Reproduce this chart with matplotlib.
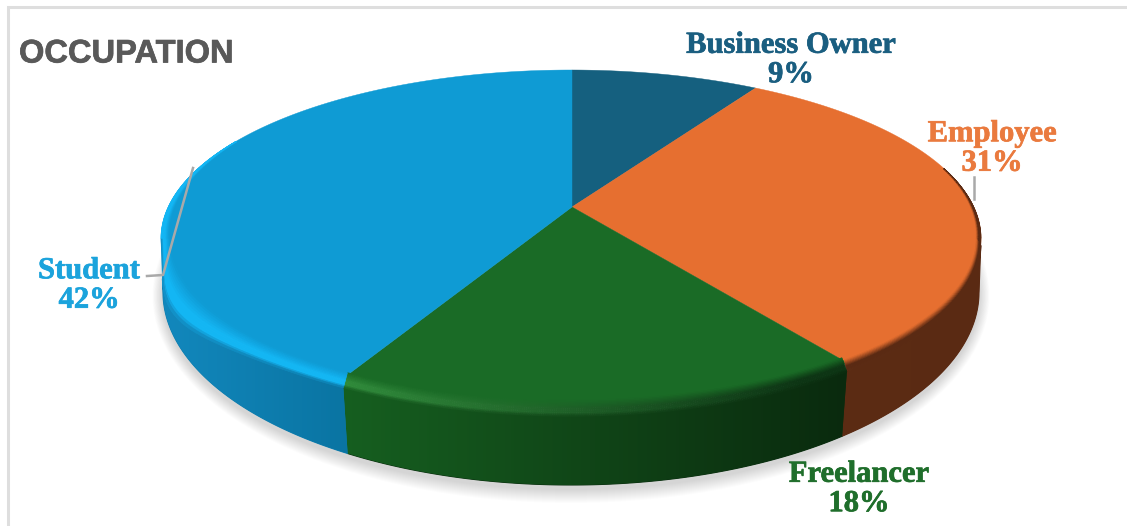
import numpy as np
import matplotlib
matplotlib.use("Agg")
import matplotlib.pyplot as plt
import matplotlib.patheffects as pe
from matplotlib.collections import PolyCollection
from matplotlib.colors import to_rgb
from matplotlib.patches import Ellipse, Polygon

# Survey shares, clockwise from twelve o'clock
categories = ["Business Owner", "Employee", "Freelancer", "Student"]
shares = [9, 31, 18, 42]

face_colors = ["#15607f", "#e66f30", "#1a6b26", "#0f9bd4"]
text_colors = ["#1a5e80", "#ea7a3e", "#1f6e2b", "#1ba3dc"]
side_left = ["#15607f", "#5c2c14", "#165f20", "#1288bd"]
side_right = ["#15607f", "#5a2a13", "#0a2a0e", "#0a74a2"]
rim_left = ["#15607f", "#5a2a13", "#2f8a3a", "#13b6f4"]
rim_right = ["#15607f", "#5a2a13", "#0d3514", "#13b6f4"]
bevel_depth = [7, 4, 7, 7]
label_centers = [(791, 60), (992, 148.5), (859, 489), (89, 285.5)]

W, H = 1127, 526
fig = plt.figure(figsize=(W / 100, H / 100), dpi=100, facecolor="white")
ax = fig.add_axes([0, 0, 1, 1])

# Geometry of the tilted disc, in canvas pixels
hub = np.array([572.0, 207.0])
top_c, top_a, top_b = np.array([571.0, 238.5]), 410.0, 168.5
base_c, base_a, base_b = np.array([571.0, 292.0]), 408.0, 193.0
tilt_x, tilt_y = 394.0, 162.0


def rim_phase(theta):
    """Ellipse phase of the rim point for a clockwise pie angle."""
    dx, dy = tilt_x * np.sin(theta), -tilt_y * np.cos(theta)
    ox, oy = (hub[0] - top_c[0]) / top_a, (hub[1] - top_c[1]) / top_b
    ux, uy = dx / top_a, dy / top_b
    A = ux**2 + uy**2
    B = 2 * (ox * ux + oy * uy)
    C = ox**2 + oy**2 - 1
    t = (-B + np.sqrt(B**2 - 4 * A * C)) / (2 * A)
    return np.arctan2(oy + t * uy, ox + t * ux)


def on_ellipse(c, a, b, phi):
    return np.column_stack([c[0] + a * np.cos(phi), c[1] + b * np.sin(phi)])


def base_phase(phi):
    """Perspective pulls the lower edge of the wall slightly toward the middle."""
    squeeze = 1 - 0.02 * np.clip(np.sin(phi), 0, None)
    c = np.cos(phi) * squeeze
    return np.arctan2(np.sign(np.sin(phi)) * np.sqrt(1 - c**2), c)


def mix(c0, c1, f):
    c0, c1 = np.array(to_rgb(c0)), np.array(to_rgb(c1))
    f = np.clip(f, 0, 1)
    return c0 + (c1 - c0) * f


# Soft ground shadow under the disc
for i in range(14):
    grow = 14 - i
    ax.add_patch(Ellipse((571, 296), 2 * (base_a + grow * 0.75), 2 * (base_b + grow),
                         fc="#000000", ec="none", alpha=0.011, zorder=1))

edges = np.concatenate([[0], np.cumsum(shares)]) / np.sum(shares) * 2 * np.pi

for i, share in enumerate(shares):
    thetas = np.linspace(edges[i], edges[i + 1], max(int(share * 14), 30))
    phis = np.unwrap(rim_phase(thetas))
    rim = on_ellipse(top_c, top_a, top_b, phis)
    base = on_ellipse(base_c, base_a, base_b, base_phase(phis))
    front = np.sin(phis) >= 0

    # The lit left shoulder reaches further down the wall than the shaded right one
    lip_share = 0.12 + 0.6 * np.clip(-np.cos(phis), 0, None) ** 8
    lip = rim + (lip_share * front)[:, None] * (base - rim)

    # Wall colour runs left to right across the visible stretch of the sector
    if front.any():
        x0, x1 = rim[front, 0].min(), rim[front, 0].max()
    else:
        x0, x1 = rim[:, 0].min(), rim[:, 0].max()

    if front.sum() > 1:
        outline = np.vstack([lip[front], base[front][::-1]])
        # Solid underlay closes hairline gaps between neighbouring walls
        mid = mix(side_left[i], side_right[i], 0.9 if i == 2 else 0.5)
        ax.add_patch(Polygon(outline, closed=True, fc=mid, ec=mid, lw=0.8, zorder=1.5))
        clip = Polygon(outline, closed=True, transform=ax.transData, fc="none", ec="none")
        ax.add_patch(clip)
        xa, xb = outline[:, 0].min() - 2, outline[:, 0].max() + 2
        ramp = np.array([[mix(side_left[i], side_right[i], f)
                          for f in np.linspace(0, 1, 128)]])
        wall_img = ax.imshow(ramp, extent=(xa, xb, outline[:, 1].max(), outline[:, 1].min()),
                             aspect="auto", interpolation="bilinear", zorder=2)
        wall_img.set_clip_path(clip)

    ax.add_patch(Polygon(np.vstack([hub, rim]), closed=True, fc=face_colors[i],
                         ec=face_colors[i], lw=0.3, zorder=3))

    # Bevel between the top face and the wall; tapers away on the far half
    deg = np.degrees(np.arctan2(np.sin(phis), np.cos(phis)))
    fade = np.ones_like(deg)
    fade = np.where((deg < 0) & (deg > -28), 1 + deg / 28, fade)
    fade = np.where((deg < -140) & (deg >= -180), (-140 - deg) / 40, fade)
    fade = np.where((deg <= -28) & (deg >= -140), 0, fade)
    depth = bevel_depth[i]
    inner = np.column_stack([
        top_c[0] + (top_a - depth * 1.2 * fade) * np.cos(phis),
        top_c[1] + (top_b - depth * fade) * np.sin(phis),
    ])

    band_polys, band_cols = [], []
    levels = 12
    for j in range(len(phis) - 1):
        if fade[j] < 0.12 or fade[j + 1] < 0.12:
            continue
        fx = ((rim[j, 0] + rim[j + 1, 0]) / 2 - x0) / max(x1 - x0, 1)
        peak = mix(rim_left[i], rim_right[i], fx * 1.1)
        wall = mix(side_left[i], side_right[i], fx) if front[j] else peak
        for k in range(levels):
            s0, s1 = k / levels, (k + 1) / levels
            a0 = inner[j] + (lip[j] - inner[j]) * s0
            a1 = inner[j + 1] + (lip[j + 1] - inner[j + 1]) * s0
            b0 = inner[j] + (lip[j] - inner[j]) * s1
            b1 = inner[j + 1] + (lip[j + 1] - inner[j + 1]) * s1
            band_polys.append([a0, a1, b1, b0])
            s = (s0 + s1) / 2
            if s < 0.55:
                band_cols.append(mix(face_colors[i], peak, s / 0.55))
            elif s < 0.8:
                band_cols.append(peak)
            else:
                band_cols.append(mix(peak, wall, (s - 0.8) / 0.2))
    if band_polys:
        ax.add_collection(PolyCollection(band_polys, facecolors=band_cols,
                                         edgecolors=band_cols, linewidths=0.5, zorder=4))

# Leader lines
ax.plot([193, 163, 147], [168, 275, 276], color="#a9a9a9", lw=1.8, zorder=6,
        solid_joinstyle="round")
ax.plot([974, 974], [177, 199], color="#a9a9a9", lw=1.8, zorder=6)

# Labels
for name, share, col, (lx, ly) in zip(categories, shares, text_colors, label_centers):
    ax.text(lx, ly, f"{name}\n{share}%", ha="center", va="center", color=col,
            family="Liberation Serif", fontweight="bold", fontsize=22,
            linespacing=1.02, zorder=7,
            path_effects=[pe.withStroke(linewidth=0.5, foreground=col)])

ax.text(19, 54, "OCCUPATION", ha="left", va="center", color="#595959",
        family="Liberation Sans", fontweight="bold", fontsize=23.5, zorder=7,
        path_effects=[pe.withStroke(linewidth=0.5, foreground="#595959")])

# Chart frame: only the top and left edges fall inside the canvas
ax.plot([7.5, 7.5, W], [H, 6.5, 6.5], color="#dedede", lw=2.2, zorder=0,
        solid_joinstyle="miter")

ax.set_xlim(0, W)
ax.set_ylim(H, 0)
ax.axis("off")

fig.savefig("out.png", dpi=100, facecolor="white")
